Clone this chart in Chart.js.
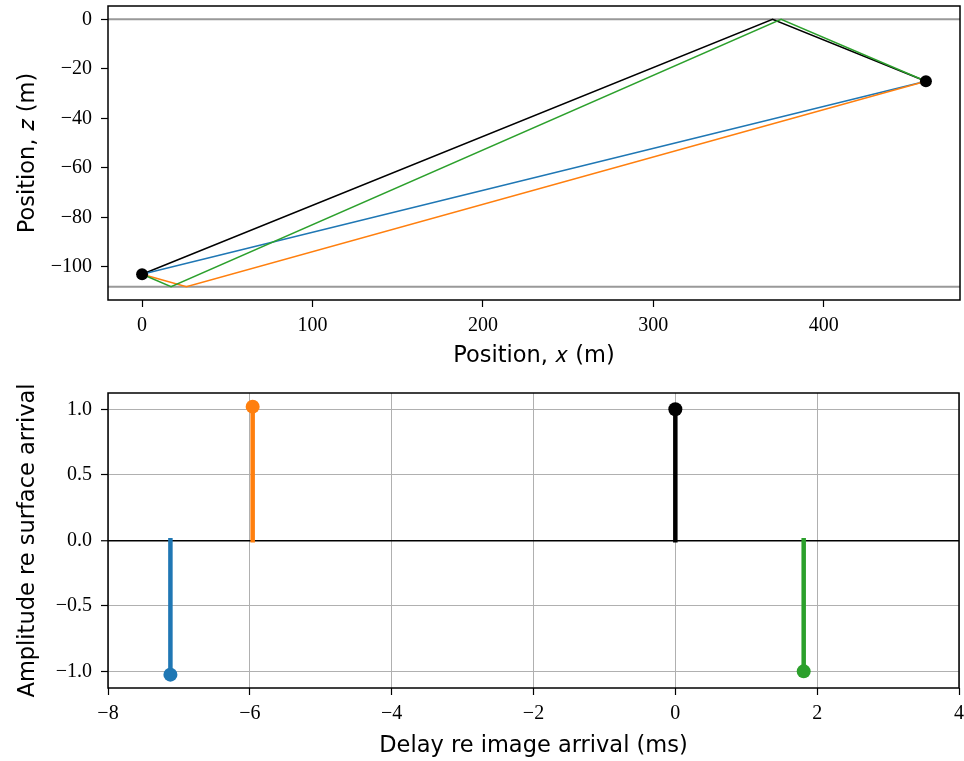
<!DOCTYPE html>
<html>
<head>
<meta charset="utf-8">
<script src="https://cdn.jsdelivr.net/npm/chart.js@4.4.1/dist/chart.umd.min.js"></script>
<style>
  html, body { margin: 0; padding: 0; background: #fff; overflow: hidden; }
  #wrap { position: relative; width: 964px; height: 761px; overflow: hidden; }
  canvas { position: absolute; left: 0; }
  #top { top: 0; }
  #bottom { top: 370px; }
</style>
</head>
<body>
<div id="wrap">
  <canvas id="top" width="966" height="370"></canvas>
  <canvas id="bottom" width="966" height="391"></canvas>
</div>
<script>
// ---- geometry of the ray paths (x, z in metres) ----
const source = { x: 0, y: -103 };
const receiver = { x: 460, y: -25 };
const surfaceZ = 0;
const bottomZ = -108;

const surfacePath = [source, { x: 370, y: 0 }, receiver];
const directPath = [source, receiver];
const bottomPath = [source, { x: 26, y: -108 }, receiver];
const bottomSurfacePath = [source, { x: 17, y: -108 }, { x: 375, y: 0 }, receiver];

const topXTicks = [0, 100, 200, 300, 400];
const topYTicks = [0, -20, -40, -60, -80, -100];

// ---- arrivals (delay in ms, amplitude re surface arrival) ----
const arrivalNames = ["direct", "bottom", "surface", "bottom-surface"];
const arrivalDelays = [-7.12, -5.96, 0, 1.81];
const arrivalAmps = [-1.025, 1.02, 1.0, -1.0];
const arrivalColors = ["#1f77b4", "#ff7f0e", "#000000", "#2ca02c"];

const bottomXTicks = [-8, -6, -4, -2, 0, 2, 4];
const bottomYTicks = [-1.0, -0.5, 0.0, 0.5, 1.0];

const tickFont = { family: "'Liberation Serif', 'DejaVu Serif', serif", size: 20 };
const labelFont = { family: "'DejaVu Sans', sans-serif", size: 22.5 };

function minus(v, digits) {
    const s = digits ? Math.abs(v).toFixed(digits) : String(Math.abs(v));
    return (v < 0 ? "\u2212" : "") + s;
}

const framePlugin = {
    id: "frame",
    afterDatasetsDraw(chart) {
        const a = chart.chartArea;
        const ctx = chart.ctx;
        ctx.save();
        ctx.strokeStyle = "#000";
        ctx.lineWidth = 1.5;
        ctx.strokeRect(a.left, a.top, a.right - a.left, a.bottom - a.top);
        ctx.restore();
    }
};

function fixedTicks(list) {
    return function (scale) {
        scale.ticks = list.map(v => ({ value: v }));
    };
}

const tickGrid = { drawTicks: true, tickLength: 7, tickColor: "#000", tickWidth: 1.2 };

// ---- top: ray paths ----
const xMin = -20, xMax = 480;

new Chart(document.getElementById("top"), {
    type: "scatter",
    data: {
        datasets: [
            {
                data: [source, receiver],
                backgroundColor: "#000",
                borderColor: "#000",
                pointRadius: 6,
                pointBorderWidth: 0,
                showLine: false,
                order: 0
            },
            {
                data: bottomSurfacePath,
                borderColor: "#2ca02c",
                borderWidth: 1.5,
                pointRadius: 0,
                showLine: true,
                order: 1
            },
            {
                data: bottomPath,
                borderColor: "#ff7f0e",
                borderWidth: 1.5,
                pointRadius: 0,
                showLine: true,
                order: 2
            },
            {
                data: directPath,
                borderColor: "#1f77b4",
                borderWidth: 1.5,
                pointRadius: 0,
                showLine: true,
                order: 3
            },
            {
                data: surfacePath,
                borderColor: "#000",
                borderWidth: 1.5,
                pointRadius: 0,
                showLine: true,
                order: 4
            },
            {
                data: [{ x: xMin, y: surfaceZ }, { x: xMax, y: surfaceZ }],
                borderColor: "#999999",
                borderWidth: 2,
                pointRadius: 0,
                showLine: true,
                order: 5
            },
            {
                data: [{ x: xMin, y: bottomZ }, { x: xMax, y: bottomZ }],
                borderColor: "#999999",
                borderWidth: 2,
                pointRadius: 0,
                showLine: true,
                order: 5
            }
        ]
    },
    options: {
        responsive: false,
        animation: false,
        layout: { padding: { top: 5, right: 3, left: 0, bottom: 0 } },
        plugins: { legend: { display: false }, tooltip: { enabled: false } },
        scales: {
            x: {
                type: "linear",
                min: xMin,
                max: xMax,
                afterBuildTicks: fixedTicks(topXTicks),
                afterFit(scale) { scale.height = 70; scale.paddingLeft = 0; scale.paddingRight = 0; },
                border: { display: false },
                grid: Object.assign({ drawOnChartArea: false }, tickGrid),
                ticks: { color: "#000", font: tickFont, padding: 7, maxRotation: 0, callback: v => minus(v) },
                title: { display: true, text: "Position, \uD835\uDC65 (m)", color: "#000", font: labelFont, padding: { top: 0, bottom: 0 } }
            },
            y: {
                type: "linear",
                min: -113.4,
                max: 5.4,
                afterBuildTicks: fixedTicks(topYTicks),
                afterFit(scale) { scale.width = 108; scale.paddingTop = 0; scale.paddingBottom = 0; },
                border: { display: false },
                grid: Object.assign({ drawOnChartArea: false }, tickGrid),
                ticks: { color: "#000", font: tickFont, padding: 9, callback: v => minus(v) },
                title: { display: true, text: "Position, \uD835\uDC67 (m)", color: "#000", font: labelFont, padding: { top: 14.5, bottom: 0 } }
            }
        }
    },
    plugins: [framePlugin]
});

// ---- bottom: arrival stems ----
const stemSets = arrivalDelays.map((d, i) => ({
    label: arrivalNames[i],
    data: [{ x: d, y: 0 }, { x: d, y: arrivalAmps[i] }],
    borderColor: arrivalColors[i],
    backgroundColor: arrivalColors[i],
    borderWidth: 4.5,
    borderCapStyle: "square",
    pointRadius: [0, 7],
    pointBorderWidth: 0,
    showLine: true
}));

new Chart(document.getElementById("bottom"), {
    type: "scatter",
    data: { datasets: stemSets },
    options: {
        responsive: false,
        animation: false,
        layout: { padding: { top: 23, right: 3, left: 0, bottom: 0 } },
        plugins: { legend: { display: false }, tooltip: { enabled: false } },
        scales: {
            x: {
                type: "linear",
                min: -8,
                max: 4,
                afterBuildTicks: fixedTicks(bottomXTicks),
                afterFit(scale) { scale.height = 73; scale.paddingLeft = 0; scale.paddingRight = 0; },
                border: { display: false },
                grid: Object.assign({ drawOnChartArea: true, color: "#b0b0b0", lineWidth: 1 }, tickGrid),
                ticks: { color: "#000", font: tickFont, padding: 7, maxRotation: 0, callback: v => minus(v) },
                title: { display: true, text: "Delay re image arrival (ms)", color: "#000", font: labelFont, padding: { top: 0, bottom: 1.5 } }
            },
            y: {
                type: "linear",
                min: -1.127,
                max: 1.124,
                afterBuildTicks: fixedTicks(bottomYTicks),
                afterFit(scale) { scale.width = 108; scale.paddingTop = 0; scale.paddingBottom = 0; },
                border: { display: false },
                grid: Object.assign({
                    drawOnChartArea: true,
                    color: c => (c.tick && c.tick.value === 0 ? "#000" : "#b0b0b0"),
                    lineWidth: c => (c.tick && c.tick.value === 0 ? 1.5 : 1)
                }, tickGrid),
                ticks: { color: "#000", font: tickFont, padding: 9, callback: v => minus(v, 1) },
                title: { display: true, text: "Amplitude re surface arrival", color: "#000", font: labelFont, padding: { top: 14.5, bottom: 0 } }
            }
        }
    },
    plugins: [framePlugin]
});
</script>
</body>
</html>
